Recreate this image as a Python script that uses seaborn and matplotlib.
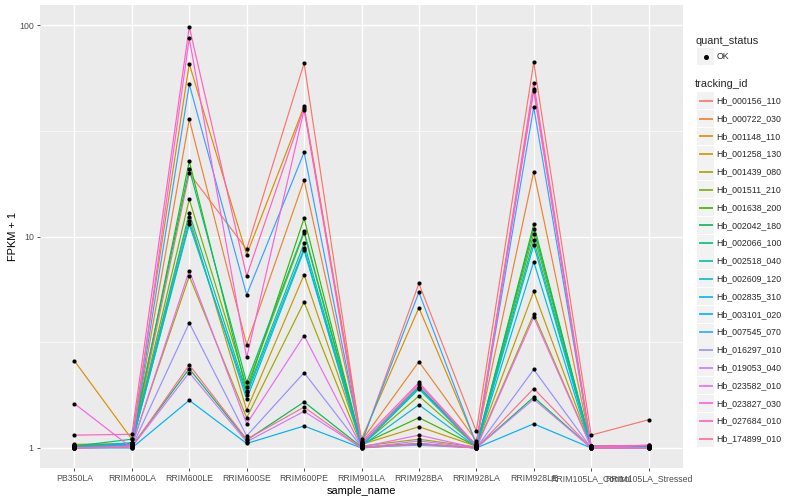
import numpy as np
import pandas as pd
import matplotlib
matplotlib.use("Agg")
import matplotlib.pyplot as plt
import seaborn as sns
from matplotlib.ticker import FixedLocator, NullFormatter, FixedFormatter
from matplotlib.patches import Rectangle
from matplotlib.lines import Line2D

samples = ["PB350LA", "RRIM600LA", "RRIM600LE", "RRIM600SE", "RRIM600PE", "RRIM901LA",
           "RRIM928BA", "RRIM928LA", "RRIM928LE", "RRIM105LA_Control", "RRIM105LA_Stressed"]

tracking_ids = ["Hb_000156_110", "Hb_000722_030", "Hb_001148_110", "Hb_001258_130", "Hb_001439_080",
                "Hb_001511_210", "Hb_001638_200", "Hb_002042_180", "Hb_002066_100", "Hb_002518_040",
                "Hb_002609_120", "Hb_002835_310", "Hb_003101_020", "Hb_007545_070", "Hb_016297_010",
                "Hb_019053_040", "Hb_023582_010", "Hb_023827_030", "Hb_027684_010", "Hb_174899_010"]

hb_000156_110 = [1.00, 1.02, 19.9, 8.7, 66.0, 1.05, 6.0, 1.20, 66.7, 1.15, 1.36]
hb_000722_030 = [1.02, 1.05, 35.8, 3.08, 18.5, 1.08, 2.56, 1.08, 20.3, 1.02, 1.01]
hb_001148_110 = [2.58, 1.10, 65.6, 8.2, 41.3, 1.10, 4.6, 1.05, 49.7, 1.02, 1.02]
hb_001258_130 = [1.04, 1.05, 12.4, 1.51, 6.6, 1.04, 1.26, 1.02, 5.5, 1.01, 1.02]
hb_001439_080 = [1.03, 1.03, 6.5, 1.39, 4.9, 1.02, 1.10, 1.01, 4.3, 1.01, 1.01]
hb_001511_210 = [1.03, 1.04, 15.0, 1.95, 10.4, 1.03, 1.76, 1.02, 10.3, 1.02, 1.02]
hb_001638_200 = [1.02, 1.05, 22.7, 1.85, 12.2, 1.04, 1.39, 1.02, 11.4, 1.01, 1.01]
hb_002042_180 = [1.01, 1.02, 2.37, 1.09, 1.65, 1.01, 1.05, 1.00, 1.74, 1.00, 1.00]
hb_002066_100 = [1.02, 1.10, 20.9, 2.04, 10.6, 1.05, 1.95, 1.03, 10.9, 1.02, 1.02]
hb_002518_040 = [1.01, 1.06, 12.9, 1.83, 9.3, 1.03, 1.93, 1.02, 9.6, 1.01, 1.01]
hb_002609_120 = [1.01, 1.05, 11.4, 1.78, 8.8, 1.02, 1.90, 1.01, 9.1, 1.01, 1.01]
hb_002835_310 = [1.00, 1.04, 11.8, 1.70, 8.6, 1.02, 1.60, 1.01, 7.6, 1.00, 1.01]
hb_003101_020 = [1.00, 1.00, 1.68, 1.05, 1.27, 1.00, 1.04, 1.00, 1.30, 1.00, 1.00]
hb_007545_070 = [1.01, 1.03, 52.5, 5.3, 25.0, 1.06, 5.45, 1.04, 40.9, 1.02, 1.01]
hb_016297_010 = [1.00, 1.01, 3.9, 1.14, 2.27, 1.01, 1.03, 1.00, 2.35, 1.00, 1.00]
hb_019053_040 = [1.00, 1.01, 2.27, 1.07, 1.49, 1.00, 1.08, 1.00, 1.70, 1.00, 1.00]
hb_023582_010 = [1.00, 1.02, 6.9, 1.30, 3.4, 1.01, 1.15, 1.00, 4.15, 1.01, 1.00]
hb_023827_030 = [1.62, 1.00, 86.5, 2.68, 39.8, 1.04, 2.00, 1.02, 49.0, 1.01, 1.03]
hb_027684_010 = [1.15, 1.16, 98.0, 6.5, 40.6, 1.07, 2.04, 1.03, 53.5, 1.02, 1.03]
hb_174899_010 = [1.00, 1.01, 2.47, 1.10, 1.56, 1.00, 1.05, 1.00, 1.91, 1.00, 1.00]

series = [hb_000156_110, hb_000722_030, hb_001148_110, hb_001258_130, hb_001439_080,
          hb_001511_210, hb_001638_200, hb_002042_180, hb_002066_100, hb_002518_040,
          hb_002609_120, hb_002835_310, hb_003101_020, hb_007545_070, hb_016297_010,
          hb_019053_040, hb_023582_010, hb_023827_030, hb_027684_010, hb_174899_010]

palette = ["#F8766D", "#EA8331", "#D89000", "#C09B00", "#A3A500", "#7CAE00", "#39B600",
           "#00BB4E", "#00BF7D", "#00C1A3", "#00BFC4", "#00BAE0", "#00B0F6", "#35A2FF",
           "#9590FF", "#C77CFF", "#E76BF3", "#FA62DB", "#FF62BC", "#FF6C91"]

rows = []
for tid, vals in zip(tracking_ids, series):
    for s, v in zip(samples, vals):
        rows.append({"tracking_id": tid, "sample_name": s, "fpkm1": v, "quant_status": "OK"})
df = pd.DataFrame(rows)
df["sample_name"] = pd.Categorical(df["sample_name"], categories=samples, ordered=True)
df["x"] = df["sample_name"].cat.codes

sns.set_theme(style="darkgrid")
plt.rcParams["font.family"] = ["Liberation Sans", "DejaVu Sans"]

W, H = 800, 500
fig = plt.figure(figsize=(8, 5), dpi=100)
fig.patch.set_facecolor("white")
L, R, T, B = 40, 683, 5, 468
ax = fig.add_axes([L / W, 1 - B / H, (R - L) / W, (B - T) / H])
ax.set_facecolor("#EBEBEB")

sns.lineplot(data=df, x="x", y="fpkm1", hue="tracking_id", hue_order=tracking_ids,
             palette=palette, estimator=None, sort=False, lw=0.85, ax=ax, legend=False,
             zorder=2)
ax.scatter(df["x"], df["fpkm1"], s=9, color="black", zorder=3, linewidths=0)

ax.set_yscale("log")
ax.set_ylim(10 ** -0.0948, 10 ** 2.095)
ax.set_xlim(-0.6, len(samples) - 1 + 0.6)

ax.yaxis.set_major_locator(FixedLocator([1, 10, 100]))
ax.yaxis.set_major_formatter(FixedFormatter(["1", "10", "100"]))
ax.yaxis.set_minor_locator(FixedLocator([10 ** 0.5, 10 ** 1.5]))
ax.yaxis.set_minor_formatter(NullFormatter())
ax.set_xticks(range(len(samples)))
ax.set_xticklabels(samples)

ax.grid(True, which="major", color="white", lw=1.0)
ax.grid(True, which="minor", axis="y", color="white", lw=0.5)
for sp in ax.spines.values():
    sp.set_visible(False)
ax.tick_params(axis="both", which="major", length=2.5, width=0.6, color="#333333",
               labelsize=6.3, labelcolor="#4D4D4D", pad=2, left=True, bottom=True)
ax.tick_params(axis="y", which="minor", length=0)
ax.set_xlabel("sample_name", fontsize=7.9, color="black", labelpad=2)
ax.set_ylabel("FPKM + 1", fontsize=7.9, color="black", labelpad=1)

# legend (ggplot-style), drawn in figure pixel coordinates
def fx(px):
    return px / W

def fy(py):
    return 1 - py / H

fig.text(fx(695), fy(40.5), "quant_status", fontsize=7.9, va="center", ha="left")
fig.patches.append(Rectangle((fx(697), fy(56.7 + 8.5)), 17 / W, 17 / H, transform=fig.transFigure,
                             facecolor="#F2F2F2", edgecolor="none", zorder=1))
fig.add_artist(Line2D([fx(705.5)], [fy(56.7)], marker="o", markersize=2.6, color="black",
                      transform=fig.transFigure, linestyle="none", zorder=3))
fig.text(fx(716.5), fy(56.7), "OK", fontsize=6.3, va="center", ha="left")

fig.text(fx(695), fy(84), "tracking_id", fontsize=7.9, va="center", ha="left")
y0, dy = 100.7, 17.8
for i, (tid, col) in enumerate(zip(tracking_ids, palette)):
    yc = y0 + i * dy
    fig.patches.append(Rectangle((fx(697), fy(yc + 8.5)), 17 / W, 17 / H, transform=fig.transFigure,
                                 facecolor="#F2F2F2", edgecolor="none", zorder=1))
    fig.add_artist(Line2D([fx(698.5), fx(712.5)], [fy(yc), fy(yc)], color=col, lw=1.2,
                          solid_capstyle="butt", transform=fig.transFigure, zorder=3))
    fig.text(fx(716.5), fy(yc), tid, fontsize=6.3, va="center", ha="left")

fig.savefig("out.png", dpi=100)
